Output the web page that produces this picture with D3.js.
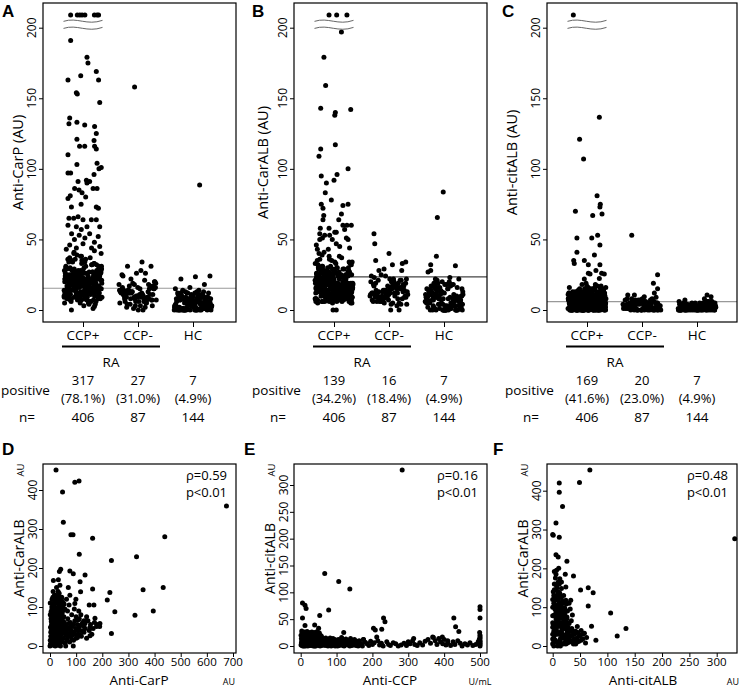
<!DOCTYPE html>
<html><head><meta charset="utf-8">
<script src="https://cdn.jsdelivr.net/npm/d3@7"></script>
<style>body{margin:0;background:#fff}svg text{font-family:'Open Sans',sans-serif;fill:#000}</style>
</head><body><svg id="c" width="740" height="689"></svg>
<script>
// ---------- DATA ----------
const groups = ['CCP+', 'CCP-', 'HC'];
const topTicks = [0, 50, 100, 150, 200];
const nCounts = ['406', '87', '144'];
// Entries given as [jitter, value] are placed; plain numbers get an even jitter.

// Panel A (Anti-CarP)
const A_off = [-0.65, -0.3, -0.17, -0.05, 0.1, 0.6, 0.74, 0.82]; // values above the axis break
const A_hi = [[-0.65,191],[0.21,179],[0.26,175],[-0.12,166],[-0.79,163],[0.70,169],[0.82,163],[-0.35,154],[-0.30,153],[0.88,147],[-0.70,136],[-0.74,132],[-0.32,133],[0.09,131],[0.61,130],[0.70,125],[-0.32,121],[-0.18,116],[0.09,116],[0.58,120],[0.61,116],[-0.79,110],[0.70,114],[-0.32,103],[0.74,104],[0.84,100],[0.96,101],[-0.79,97],[-0.65,97],[0.58,96],[-0.26,91],[0.18,92],[0.21,90],[0.35,91],[0.53,86],[0.74,86],[-0.44,86],[-0.21,85],[-0.67,81],[-0.79,79],[-0.05,83],[0.14,80],[-0.61,73],[-0.1,75],[0.70,73],[0.81,72],[-0.74,65],[-0.49,65],[-0.26,66],[0.70,64],[0,64],[0.44,64],[-0.79,60],[-0.35,59],[-0.09,57],[0.21,59],[0.88,59],[-0.6,54],[-0.2,53],[0.35,54],[0.8,52],[0.1,51],[-0.45,50],[0.6,48],[-0.7,46],[0,47],[0.88,45],[-0.35,44],[0.45,44],[-0.88,43],[-0.61,0],[0.53,1],[0.6,2.5]];
const A_lo1 = [12,25,8,31,18,22,5,14,27,19,10,35,16,23,9,29,13,20,6,38,17,11,26,15,21,7,33,24,12,18,40,14,28,9,20,16,30,11,22,4,19,25,13,36,17,8,23,15,27,10,21,18,32,12,24,6,16,29,14,20,42,11,26,17,9,22,19,34,13,25,15,7,28,18,21,12,37,16,23,10,30,14,19,5,24,17,27,11,20,13,39,15,22,8,26,18,31,12,21,16,3,25,14,28,19,9,23,17,33,13,20,11,24,15,29,18,10,22,16,41,14,26,12,19,7,27,17,35,21,13,24,15,18,30,11,20,16,25,9,22,14,28,17,12,19,23,15,36,6,10,8,13,4,21];
const A_lo2 = [14,22,9,27,17,31,11,24,19,7,29,15,21,12,34,18,25,10,20,16,28,13,23,8,32,17,26,11,19,14,38,22,6,24,15,30,12,20,27,9,18,23,13,35,16,21,10,26,19,14,33,11,24,17,29,8,20,15,22,12,40,18,25,13,27,10,21,16,31,14,23,7,19,28,12,17,24,11,36,15,20,9,26,18,13,22,30,16,25,10,19,14,27,12,21,17,34,15,23,8,20,13,29,18,11,24,16,22,5,26,14,19,12,32,17,21,10,25,15,28,13,20,18,23,11,37,16,24,14,19];
const A_neg = [[-0.18,158],34,31,31,26,25,26,22,20,15,12,8,18,5,10,14,3,16,11,7,13,19,9,2,17,6,12,21,4,15,10,8,13,1,18,11,14,7,9,16,5,12,20,3,10,15,8,13,6,17,11,0,14,9,19,7,12,4,16,10,13,2,8,15,11,6,18,9,14,0,12,7,10,24,5,13,16,28,9,11,3,14,8,12,17,6,10];
const A_hc1 = [[0.35,88.5],24,23.5,22,18,16,15,14,7,3,10,0,5,12,2,8,0,4,11,6,1,9,3,0,7,13,5,2,10,0,6,4,8,1,12,3,0,9,5,7,2,11,0,4,6,10,1,8,3,0,14,5,7,2,9,0,6,4,12,1,8,3,10,0,5,7,2,11,4,0,6,9,1,3,8,0,13,5,2,7,10,4,0,6,1,9,3,12,0,8,5,2,11,7,0,4,6];
const A_hc2 = [5,9,2,0,11,7,3,13,1,6,10,0,4,8,2,12,0,5,7,3,9,1,0,6,11,4,2,8,0,10,3,5,1,7,0,12,6,2,9,4];
const A_pos = ['317', '27', '7'];
const A_pct = ['(78.1%)', '(31.0%)', '(4.9%)'];

// Panel B (Anti-CarALB)
const B_off = [-0.26, 0.14, 0.68];
const B_hi = [[0.39,197],[-0.53,179],[-0.44,159],[-0.70,143],[0.88,142],[0.07,140],[0.04,138],[0.07,117],[-0.70,114],[-0.79,109],[0.16,96],[-0.67,95],[0.74,100],[0,92],[-0.40,90],[-0.46,83],[-0.14,78],[-0.67,75],[-0.58,72],[0.47,74],[0.74,75],[0.39,68],[0.25,64],[-0.54,67],[-0.58,64],[-0.72,58],[-0.26,58],[0.68,60],[0.91,60],[0.47,60],[-0.75,54],[-0.49,53],[-0.23,53],[0.04,55],[0.12,55],[0.56,57],[0.65,51],[-0.75,50],[-0.61,51],[-0.09,50],[0.12,47],[0.74,50],[-0.93,46],[0.3,45],[-0.3,43],[0.82,44],[-0.05,0],[0.12,0]];
const B_lo1 = [9,22,14,6,30,17,11,25,8,19,34,13,21,7,27,15,10,23,18,5,32,12,20,16,9,28,14,24,6,38,11,19,26,15,8,22,13,30,17,10,35,20,12,25,7,18,14,29,9,21,16,41,11,24,13,6,27,19,15,31,10,22,8,17,26,12,20,36,14,23,9,18,28,11,16,5,25,13,33,19,10,21,15,8,27,12,24,17,40,14,20,7,30,11,22,16,26,9,18,13,34,15,23,6,19,12,28,10,21,17,37,14,25,8,20,11,31,16,24,13,9,22,18,29,12,5,26,15,19,10,43,23,14,17,8,27,20,11,33,16,21,13,7,24,18,30,12,15,39,22,9,26,14,19,6,11,16,8];
const B_lo2 = [7,16,24,11,19,29,13,8,21,15,33,10,18,26,12,22,6,17,28,14,20,9,25,16,31,11,19,23,13,7,27,15,21,10,36,18,12,24,8,17,30,14,20,5,26,11,22,16,19,13,9,28,15,23,12,18,34,10,21,14,25,7,17,20,12,29,16,11,23,19,8,15,27,13,22,10,18,32,14,6,24,17,20,11,26,15,9,21,13,38,16,19,12,25,8,22,14,28,17,10,20,13,23,15,7,18,30,11,24,16,21,9,14,27,19,12,35,15,22,10,17,26,13,20,8,24,16,11,19,29,14,21,12,18,6,25,15,23,10,17];
const B_neg = [[-0.79,54],[-0.75,47],[0,40],[-0.7,35],[0.18,32],[0.7,33],[0.88,34],[0.67,28],[-0.26,29],[-0.53,28],[-0.18,24],15,9,20,12,6,18,11,23,8,14,4,17,10,21,13,7,16,25,9,12,19,5,14,10,22,8,15,11,18,3,13,9,20,6,16,12,24,10,7,17,14,11,19,8,13,5,21,15,9,12,18,6,10,16,14,[0.09,0],[0.53,0],11,20,8,13,7,17,12,9,22,15,10,4,14,12,18,7,14,22,9,16,5,11,20,13,8,17,6,15,10,19,4,12,21];
const B_hc1 = [[-0.04,83.6],[-0.35,65.6],[-0.4,38],[-0.7,32],[0.6,31.4],[-0.84,27],[-0.7,28],23,22,22,12,5,18,8,0,15,3,10,20,7,1,13,6,0,17,9,4,11,2,16,8,0,14,5,19,10,3,12,0,7,15,1,9,6,18,0,11,4,13,8,2,16,0,10,5,21,7,0,12,3,14,9,1,17,6,0,11,8,4,15,2,10,0,13,7,5,19,9,0,12,3,16,6,1,11,0,8,14,4,10,2,18,7,0,13,5,9,15,3,0,11,6];
const B_hc2 = [10,4,15,7,0,12,2,18,9,5,0,14,3,11,6,20,1,8,0,13,4,16,10,2,0,7,12,5,17,0,9,3,14,6,1,11,0,19,8,4];
const B_pos = ['139', '16', '7'];
const B_pct = ['(34.2%)', '(18.4%)', '(4.9%)'];

// Panel C (Anti-citALB)
const C_off = [-0.72];
const C_hi = [[0.65,136.5],[-0.39,121],[-0.18,107],[0.53,81],[0.70,75],[0.68,73],[0.79,68],[0.30,67],[-0.61,70],[-0.53,51],[0.25,51],[0.56,53],[0.68,46],[-0.53,41],[0.39,39],[-0.70,35],[-0.67,33],[-0.14,35],[0.07,32],[0.68,32],[0.47,28],[0.77,26],[0.91,25.5],[0.07,26],[0.16,25.5],[-0.14,22],[0.65,22.4],[-0.05,19],[-0.26,18],[0.44,18],[0.74,17]];
const C_lo1 = [3,8,1,12,5,0,10,2,15,6,4,9,1,13,7,0,11,3,16,5,2,8,0,14,6,1,10,4,12,3,0,7,17,2,9,5,1,11,0,6,13,4,8,2,15,0,10,3,7,1,12,5,0,9,4,14,2,6,0,11,8,3,16,1,7,5,0,13,10,2,4,9,0,6,12,3,1,15,8,0,5,11,2,7,4,0,14,1,10,6,3,0,9,13,2,5,8,0,1,12,4,7,3,0,16,6,10,2,11,0,5,9,1,14,3,7,0,12,4,8,2,15,0,6,1,10,13,3,0,5,9,2,7,11,0,4,17,1,8,6,0,3,12,10,2,5,0,14,7,1,9,4,0,13,6,3,11,8,0,2,15,5,1,10];
const C_lo2 = [4,9,1,14,6,2,11,0,7,13,3,8,5,1,10,0,12,4,6,2,15,9,0,3,7,11,1,5,13,8,2,0,10,4,6,16,3,9,1,12,0,7,5,2,14,8,4,0,11,6,3,1,9,13,2,0,5,10,7,4,1,12,0,8,3,6,15,2,9,0,5,11,1,4,7,13,0,3,10,6,2,8,0,12,5,1,9,4,14,0,7,3,11,2,6,0,10,8,1,5,13,4,0,9,3,7,2,12,6,0,1,10,4,8,16,2,5,0,11,3,7,9,1,6,0,13,4,2,10,8,0,5,3,12,1,7];
const C_neg = [[-0.54,53],[0.82,25],[0.6,19],[0.82,15],[0.65,12],[0.74,9],[0.12,9.4],[-0.4,10.6],[-0.75,10.6],2,5,0,7,3,1,6,4,0,8,2,5,1,3,0,6,4,7,2,0,5,1,3,8,0,4,2,6,1,0,3,5,7,2,0,4,1,6,3,0,2,5,8,1,4,0,3,6,2,0,7,1,5,3,0,4,2,6,0,1,3,5,2,0,4,7,1,3,1,4,0,6,2,3,5,0,7,1,2,4,0,3,8,1,5,2,0,6];
const C_hc1 = [[0.53,10.6],[0.74,9.4],[0.39,8],7,1,3,0,5,2,4,0,1,6,3,2,0,4,1,5,0,2,3,1,0,4,6,2,0,1,3,5,0,2,4,1,0,3,2,6,0,1,4,2,0,3,5,1,0,2,4,3,0,1,2,5,0,3,1,4,0,2,6,1,0,3,2,4,0,1,5,2,0,3,1,0,4,2,1,0,3,5,2,1,0,4,2];
const C_hc2 = [2,0,4,1,3,5,0,2,1,4,0,3,6,1,2,0,5,3,1,0,4,2,0,3,1,5,2,0,4,1,0,3,2,6,0,1,3,4,0,2];
const C_pos = ['169', '20', '7'];
const C_pct = ['(41.6%)', '(23.0%)', '(4.9%)'];

// Panel D: Anti-CarP (x) vs Anti-CarALB (y)
const D_pts1 = [[23,451],[95,420],[111,423],[48,395],[51,317],[80,285],[88,285],[163,276],[112,235],[439,280],[675,359],[331,229],[235,219],[356,144],[433,150],[229,137],[219,118],[248,88],[395,90],[325,79],[235,32],[41,197],[36,191],[76,192],[89,185],[115,165],[134,182],[163,146],[150,105],[168,105],[13,168],[38,156],[70,150],[76,130],[99,120],[117,139],[95,109],[140,75],[178,50],[191,58],[172,71],[153,48],[134,58],[108,67],[153,26],[89,0]];
const D_pts2 = [[2,5],[5,12],[8,20],[10,3],[12,30],[15,8],[18,45],[20,15],[22,60],[25,25],[28,5],[30,80],[32,35],[35,10],[38,55],[40,100],[42,20],[45,70],[5,40],[8,65],[10,90],[12,50],[15,110],[18,25],[20,75],[22,5],[25,95],[28,40],[30,120],[32,60],[35,85],[38,15],[40,45],[42,105],[45,30],[48,10],[3,25],[6,55],[9,80],[14,2],[16,35],[19,95],[23,70],[26,115],[29,50],[33,105],[36,30],[39,75],[44,55],[47,85],[50,40],[52,20],[55,60],[58,8],[60,35],[62,50],[65,15],[68,70],[70,30],[72,45],[75,10],[78,60],[80,25],[85,50],[88,35],[90,15],[95,65],[98,45],[100,20],[105,55],[108,30],[112,70],[115,40],[120,25],[125,60],[128,50],[130,35],[135,45],[140,20],[145,65],[150,40],[155,55],[160,30],[165,45],[170,60],[180,55],[190,50],[0,0],[1,15],[4,70],[7,100],[11,125],[13,10],[17,130],[21,115],[24,85],[27,20],[31,140],[34,95],[37,125],[41,65],[43,90],[46,115],[49,100],[53,75],[57,95],[63,120],[67,90],[73,105],[83,80],[93,95],[110,90],[118,80],[100,75],[60,0],[40,0],[20,0],[30,2],[15,60],[26,10]];
const D_pts3 = [[3,3],[6,8],[9,14],[12,19],[15,27],[18,33],[21,38],[24,43],[27,48],[30,53],[33,58],[36,64],[39,69],[42,74],[45,79],[4,88],[7,93],[10,98],[13,103],[16,108],[19,113],[22,118],[25,123],[28,128],[31,110],[34,115],[37,108],[40,118],[43,122],[2,48],[5,63],[8,78],[11,83],[14,73],[17,68],[20,53],[23,33],[26,28],[29,13],[32,18],[35,23],[38,38],[41,43],[44,48],[47,58],[50,63],[53,48],[56,38],[59,53],[62,28],[65,43],[68,23],[71,58],[74,33],[77,48],[80,40],[83,18],[86,28],[90,55],[95,30],[100,40],[105,22],[110,48],[115,28],[120,55],[125,38],[130,65],[3,35],[6,22],[9,44],[12,67],[15,90],[18,100],[21,88],[24,62],[27,76],[30,95],[33,72],[36,50],[39,88],[42,60],[45,100],[48,72],[51,92],[54,108],[20,130],[28,110],[35,135],[1,80],[1,110],[8,120],[12,140],[25,150],[32,170],[45,125],[50,110]];

// Panel E: Anti-CCP (x) vs Anti-citALB (y)
const E_pts1 = [[283,328],[67,135],[106,120],[137,106],[5,52],[5,80],[12,76],[15,70],[78,67],[53,57],[39,39],[50,33],[46,27],[12,38],[231,52],[235,45],[203,33],[208,30],[226,31],[212,17],[427,52],[432,36],[441,27],[500,73],[500,68],[500,52],[500,20],[500,14],[500,8],[500,3],[500,0],[499,25],[120,25],[175,12],[315,14],[370,16],[395,17],[410,10]];
const E_pts2 = [[1,2],[3,10],[5,18],[7,5],[9,22],[11,12],[13,0],[15,8],[17,20],[19,3],[21,15],[23,25],[25,6],[27,12],[29,2],[31,18],[33,9],[35,0],[37,14],[39,5],[41,21],[43,10],[45,3],[47,16],[49,7],[51,1],[53,12],[55,20],[57,4],[59,9],[2,14],[4,25],[6,0],[8,12],[10,7],[12,19],[14,3],[16,11],[18,27],[20,6],[22,1],[24,16],[26,9],[28,23],[30,4],[32,13],[34,7],[36,2],[38,10],[40,17],[42,0],[44,8],[46,12],[48,3],[50,19],[52,6],[54,0],[56,14],[58,1],[60,8],[2,6],[4,1],[6,9],[8,17],[10,24],[12,4],[14,13],[16,21],[18,8],[20,0],[22,11],[24,19],[26,3],[28,14],[30,22],[32,6],[34,17],[36,11],[38,25],[40,3],[42,13],[44,22],[46,5],[48,15],[50,10],[52,24],[54,4],[56,9],[58,18],[60,2],[1,20],[3,28],[5,4],[7,15],[9,0],[11,26],[13,8],[15,17],[17,1],[19,12],[21,22],[23,7],[25,18],[27,1],[29,9],[31,26],[33,2],[35,12],[37,20],[39,0]];
const E_pts3 = [[62,3],[65,10],[68,1],[70,15],[73,6],[76,0],[78,12],[81,4],[84,8],[87,2],[90,14],[93,5],[96,0],[99,9],[102,3],[105,12],[108,1],[111,7],[114,16],[117,4],[121,0],[124,10],[127,5],[131,2],[135,8],[139,14],[143,1],[147,6],[151,3],[156,9],[160,0],[165,5],[170,2],[175,12],[180,7],[185,4],[190,1],[195,9],[200,3],[205,6],[215,10],[220,2],[225,5],[230,0],[240,8],[245,3],[250,1],[258,6],[265,4],[272,0],[280,2],[288,5],[295,1],[300,8],[305,4],[312,10],[318,3],[325,1],[332,6],[340,2],[347,9],[355,12],[362,5],[368,17],[375,10],[380,3],[385,14],[390,8],[396,4],[400,12],[405,2],[410,6],[418,1],[425,8],[430,3],[438,10],[445,5],[450,0],[458,4],[465,2],[472,6],[480,1],[488,3],[495,8],[498,12],[500,5],[500,17],[500,10],[64,6],[66,13],[69,4],[72,10],[75,2],[79,7],[82,15],[85,0],[88,10],[92,3],[95,12],[98,6],[103,0],[107,9],[110,4],[115,11],[118,1],[122,6],[126,13],[130,5],[133,10],[137,0],[141,7],[145,3],[150,12],[154,1],[158,6],[163,10],[168,4],[172,0]];

// Panel F: Anti-citALB (x) vs Anti-CarALB (y)
const F_pts1 = [[68,453],[49,421],[12,420],[12,396],[18,359],[6,317],[0,287],[1,285],[12,280],[6,235],[10,229],[26,218],[23,185],[38,180],[13,173],[7,195],[3,192],[24,152],[16,148],[51,144],[65,150],[74,137],[65,103],[33,118],[333,276],[106,85],[71,51],[134,45],[118,26],[79,15],[45,50],[38,37],[26,71],[30,58]];
const F_pts2 = [[0,5],[2,20],[4,45],[6,70],[8,95],[10,120],[12,10],[14,35],[16,60],[18,85],[20,110],[22,25],[24,50],[26,75],[28,15],[30,40],[1,55],[3,80],[5,105],[7,130],[9,0],[11,30],[13,55],[15,80],[17,100],[19,5],[21,45],[23,65],[25,30],[27,90],[29,20],[1,140],[3,115],[5,15],[7,40],[9,65],[11,90],[13,135],[15,20],[17,45],[19,70],[21,95],[23,10],[25,55],[27,35],[2,0],[4,125],[6,30],[8,55],[10,80],[12,105],[14,0],[16,125],[18,30],[20,60],[22,80],[24,5],[26,40],[28,60],[31,10],[33,25],[35,45],[37,15],[40,30],[42,5],[44,20],[46,35],[48,12],[50,28],[52,40],[55,18],[58,33],[60,8],[62,22],[3,160],[8,150],[5,175],[10,165],[0,100],[0,60],[0,30],[34,65],[36,80],[32,95],[30,110]];
const F_pts3 = [[1,8],[3,28],[5,48],[7,68],[9,88],[11,108],[13,128],[15,8],[17,28],[19,48],[21,68],[23,88],[25,108],[27,8],[29,28],[2,38],[4,58],[6,78],[8,98],[10,118],[12,138],[14,18],[16,38],[18,58],[20,78],[22,98],[24,118],[26,18],[28,38],[30,28],[0,18],[0,48],[0,78],[0,120],[2,110],[4,95],[6,88],[8,10],[10,50],[12,70],[14,100],[16,90],[18,115],[20,20],[22,48],[24,68],[26,58],[28,48],[32,38],[34,12],[36,28],[38,5],[40,18],[42,38],[45,10],[48,25],[52,15],[55,30],[3,145],[7,155],[12,160],[2,130],[9,140],[15,110],[20,130],[6,185],[11,200],[16,165]];

// ---------- DRAW ----------
const svg = d3.select('#c');
const JW = 19, R = 2.5;
function gold(i, s) { const v = ((i + 1) * 0.6180339887 + s) % 1; return v * 2 - 1; }

const topPanels = [
  {letter:'A', lx:2, left:43, w:193, ylab:'Anti-CarP (AU)', ylx:17, cut:15.4, cutColor:'#999', off:A_off, hi:A_hi, lo:A_lo1.concat(A_lo2), neg:A_neg, hc:A_hc1.concat(A_hc2), pos:A_pos, pct:A_pct},
  {letter:'B', lx:252, left:294, w:193, ylab:'Anti-CarALB (AU)', ylx:262, cut:23.4, cutColor:'#444', off:B_off, hi:B_hi, lo:B_lo1.concat(B_lo2), neg:B_neg, hc:B_hc1.concat(B_hc2), pos:B_pos, pct:B_pct},
  {letter:'C', lx:502, left:547, w:190, ylab:'Anti-citALB (AU)', ylx:511, cut:5.9, cutColor:'#999', off:C_off, hi:C_hi, lo:C_lo1.concat(C_lo2), neg:C_neg, hc:C_hc1.concat(C_hc2), pos:C_pos, pct:C_pct}
];

function toPts(arr, grp, seed) {
  return arr.map((d, i) => Array.isArray(d) ? {g: grp, dx: d[0], v: d[1]} : {g: grp, dx: gold(i, seed), v: d});
}

topPanels.forEach(p => {
  const g = svg.append('g');
  const L = p.left, T = 3, Bm = 322;
  const x = d3.scalePoint().domain(groups).range([L + 40, L + 150]);
  const y = d3.scaleLinear().domain([0, 200]).range([310, 27.7]);

  g.append('line').attr('x1', L).attr('x2', L + p.w).attr('y1', y(p.cut)).attr('y2', y(p.cut))
    .attr('stroke', p.cutColor).attr('stroke-width', 1.2);

  const pts = p.off.map(d => ({g: 'CCP+', dx: d, v: null}))
    .concat(toPts(p.hi, 'CCP+', 0))
    .concat(toPts(p.lo, 'CCP+', 0.1))
    .concat(toPts(p.neg, 'CCP-', 0.37))
    .concat(toPts(p.hc, 'HC', 0.71));
  g.append('g').selectAll('circle').data(pts).join('circle')
    .attr('cx', d => x(d.g) + d.dx * JW)
    .attr('cy', d => d.v === null ? y(209) : y(d.v))
    .attr('r', R).attr('fill', '#000');

  // axis break symbol
  const bx = x('CCP+') - 19.5, bw = 39;
  [y(204.5), y(199.5)].forEach(yy => {
    g.append('path').attr('d', `M${bx},${yy} C${bx + bw * 0.35},${yy - 4.5} ${bx + bw * 0.6},${yy + 4.5} ${bx + bw},${yy - 1}`)
      .attr('fill', 'none').attr('stroke', '#666').attr('stroke-width', 1);
  });

  g.append('rect').attr('x', L).attr('y', T).attr('width', p.w).attr('height', Bm - T)
    .attr('fill', 'none').attr('stroke', '#000').attr('stroke-width', 1.2);

  const ya = g.append('g').attr('transform', `translate(${L},0)`)
    .call(d3.axisLeft(y).tickValues(topTicks).tickSize(4).tickFormat(''));
  ya.select('.domain').remove();
  topTicks.forEach(t => {
    g.append('text').attr('transform', `translate(${L - 12},${y(t)}) rotate(-90)`)
      .attr('text-anchor', 'middle').attr('dominant-baseline', 'central')
      .style('font-size', '12px').text(t);
  });
  g.append('text').attr('transform', `translate(${p.ylx},${(T + Bm) / 2}) rotate(-90)`)
    .attr('text-anchor', 'middle').attr('dominant-baseline', 'central')
    .style('font-size', '14.5px').text(p.ylab);

  const xa = g.append('g').attr('transform', `translate(0,${Bm})`)
    .call(d3.axisBottom(x).tickSize(5).tickFormat(''));
  xa.select('.domain').remove();
  groups.forEach(c => {
    g.append('text').attr('x', x(c)).attr('y', 340).attr('text-anchor', 'middle')
      .style('font-size', '13.5px').text(c);
  });
  g.append('line').attr('x1', L + 19).attr('x2', L + 117).attr('y1', 346.5).attr('y2', 346.5)
    .attr('stroke', '#000').attr('stroke-width', 2.2);
  g.append('text').attr('x', L + 68).attr('y', 367).attr('text-anchor', 'middle')
    .style('font-size', '13.5px').text('RA');

  g.append('text').attr('x', L - 42).attr('y', 394.5).style('font-size', '13.5px').text('positive');
  g.append('text').attr('x', L - 16).attr('y', 421.5).attr('text-anchor', 'middle').style('font-size', '13.5px').text('n=');
  groups.forEach((c, i) => {
    g.append('text').attr('x', x(c)).attr('y', 384.5).attr('text-anchor', 'middle').style('font-size', '13px').text(p.pos[i]);
    g.append('text').attr('x', x(c)).attr('y', 402.5).attr('text-anchor', 'middle').style('font-size', '13px').text(p.pct[i]);
    g.append('text').attr('x', x(c)).attr('y', 421.5).attr('text-anchor', 'middle').style('font-size', '13.5px').text(nCounts[i]);
  });

  g.append('text').attr('x', p.lx).attr('y', 17).style('font-family', "'Liberation Sans',Arial,sans-serif")
    .style('font-weight', 'bold').style('font-size', '17px').text(p.letter);
});

const botPanels = [
  {letter:'D', lx:2, left:43, w:193, xd:[0,700], xr:[50,233], xt:d3.range(0,701,100), yd:[0,400], yr:[646,490], yt:[0,100,200,300,400], xl:'Anti-CarP', xu:'AU', yl:'Anti-CarALB', rho:'ρ=0.59', pts:D_pts1.concat(D_pts2, D_pts3)},
  {letter:'E', lx:244, left:294, w:193, xd:[0,500], xr:[300.7,480], xt:d3.range(0,501,100), yd:[0,300], yr:[646,485], yt:d3.range(0,301,50), xl:'Anti-CCP', xu:'U/mL', yl:'Anti-citALB', rho:'ρ=0.16', pts:E_pts1.concat(E_pts2, E_pts3)},
  {letter:'F', lx:493, left:547, w:190, xd:[0,300], xr:[552.7,716.7], xt:d3.range(0,301,50), yd:[0,400], yr:[646,490.7], yt:[0,100,200,300,400], xl:'Anti-citALB', xu:'AU', yl:'Anti-CarALB', rho:'ρ=0.48', pts:F_pts1.concat(F_pts2, F_pts3)}
];

botPanels.forEach(p => {
  const g = svg.append('g');
  const L = p.left, T = 464, Bm = 653;
  const x = d3.scaleLinear().domain(p.xd).range(p.xr);
  const y = d3.scaleLinear().domain(p.yd).range(p.yr);
  g.append('g').selectAll('circle').data(p.pts).join('circle')
    .attr('cx', d => x(d[0])).attr('cy', d => y(d[1])).attr('r', R).attr('fill', '#000');
  g.append('rect').attr('x', L).attr('y', T).attr('width', p.w).attr('height', Bm - T)
    .attr('fill', 'none').attr('stroke', '#000').attr('stroke-width', 1.2);

  const ya = g.append('g').attr('transform', `translate(${L},0)`)
    .call(d3.axisLeft(y).tickValues(p.yt).tickSize(4).tickFormat(''));
  ya.select('.domain').remove();
  p.yt.forEach(t => {
    g.append('text').attr('transform', `translate(${L - 11},${y(t)}) rotate(-90)`)
      .attr('text-anchor', 'middle').attr('dominant-baseline', 'central')
      .style('font-size', '12px').text(t);
  });
  const xa = g.append('g').attr('transform', `translate(0,${Bm})`)
    .call(d3.axisBottom(x).tickValues(p.xt).tickSize(4).tickFormat(''));
  xa.select('.domain').remove();
  p.xt.forEach(t => {
    g.append('text').attr('x', x(t)).attr('y', 665.5).attr('text-anchor', 'middle')
      .style('font-size', '11.5px').text(t);
  });

  g.append('text').attr('x', L + 96).attr('y', 684.5).attr('text-anchor', 'middle')
    .style('font-size', '13.5px').text(p.xl);
  g.append('text').attr('x', L + 186).attr('y', 685).attr('text-anchor', 'middle')
    .style('font-size', '9px').text(p.xu);
  g.append('text').attr('transform', `translate(${L - 25},${(T + Bm) / 2}) rotate(-90)`)
    .attr('text-anchor', 'middle').attr('dominant-baseline', 'central')
    .style('font-size', '14px').text(p.yl);
  g.append('text').attr('transform', `translate(${L - 23},${T + 6}) rotate(-90)`)
    .attr('text-anchor', 'middle').attr('dominant-baseline', 'central')
    .style('font-size', '9.5px').text('AU');

  g.append('text').attr('x', L + p.w - 9).attr('y', 480).attr('text-anchor', 'end')
    .style('font-size', '13px').text(p.rho);
  g.append('text').attr('x', L + p.w - 9).attr('y', 497).attr('text-anchor', 'end')
    .style('font-size', '13px').text('p<0.01');

  g.append('text').attr('x', p.lx).attr('y', 455).style('font-family', "'Liberation Sans',Arial,sans-serif")
    .style('font-weight', 'bold').style('font-size', '17px').text(p.letter);
});
</script></body></html>
